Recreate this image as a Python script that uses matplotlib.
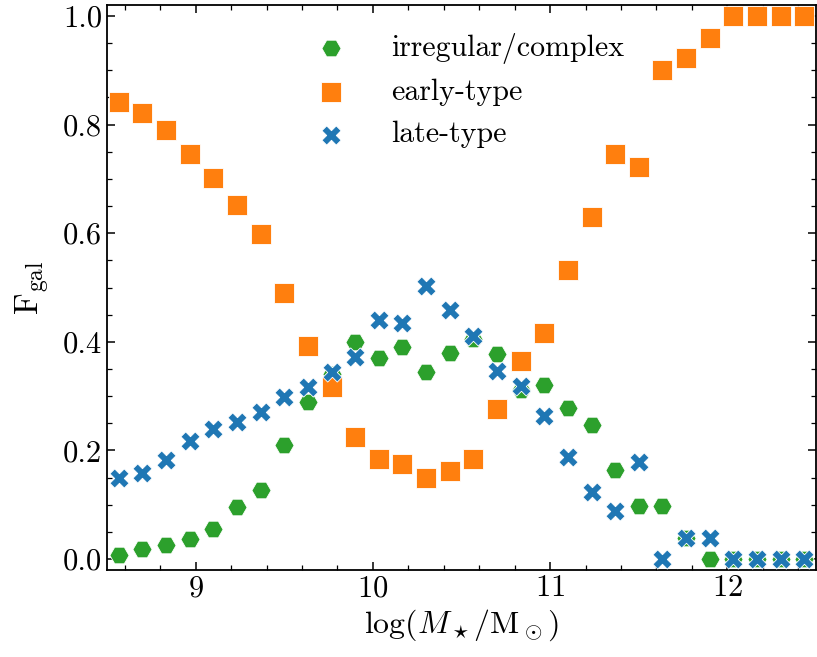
import numpy as np
import matplotlib
matplotlib.use("Agg")
import matplotlib.pyplot as plt
from matplotlib.ticker import MultipleLocator, FormatStrFormatter

plt.rcParams['font.family'] = 'serif'
plt.rcParams['font.serif'] = ['cmr10', 'DejaVu Serif']
plt.rcParams['mathtext.fontset'] = 'cm'
plt.rcParams['axes.formatter.use_mathtext'] = True

# bin centres of log stellar mass (30 bins from 8.5 to 12.5)
bin_lo = 8.5
bin_hi = 12.5
n_bins = 30
log_mass = bin_lo + (np.arange(n_bins) + 0.5) * (bin_hi - bin_lo) / n_bins

irregular = [0.008, 0.019, 0.026, 0.037, 0.056, 0.096, 0.128, 0.211, 0.290, 0.341,
             0.400, 0.371, 0.391, 0.345, 0.379, 0.406, 0.378, 0.311, 0.320, 0.278,
             0.246, 0.165, 0.098, 0.098, 0.039, 0.0, 0.0, 0.0, 0.0, 0.0]
early = [0.842, 0.822, 0.790, 0.745, 0.702, 0.651, 0.599, 0.489, 0.392, 0.316,
         0.225, 0.185, 0.175, 0.150, 0.163, 0.184, 0.276, 0.365, 0.416, 0.532,
         0.630, 0.746, 0.721, 0.901, 0.922, 0.959, 1.0, 1.0, 1.0, 1.0]
late = [0.149, 0.158, 0.182, 0.217, 0.240, 0.252, 0.271, 0.298, 0.316, 0.344,
        0.373, 0.441, 0.434, 0.503, 0.458, 0.411, 0.347, 0.319, 0.263, 0.188,
        0.123, 0.088, 0.179, 0.0, 0.039, 0.039, 0.0, 0.0, 0.0, 0.0]

labels = ['irregular/complex', 'early-type', 'late-type']
colors = ['#2ca02c', '#ff7f0e', '#1f77b4']
markers = ['H', 's', 'X']

fig = plt.figure(figsize=(8.17, 6.57), dpi=100)
ax = fig.add_axes([0.131, 0.1324, 0.8678, 0.86])

for vals, lab, c, m in zip([irregular, early, late], labels, colors, markers):
    ax.scatter(log_mass, vals, s=190, marker=m, color=c, edgecolor='white',
               linewidth=0.6, label=lab, zorder=3)

ax.set_xlim(8.5, 12.5)
ax.set_ylim(-0.02, 1.02)
ax.xaxis.set_major_locator(MultipleLocator(1))
ax.xaxis.set_minor_locator(MultipleLocator(0.2))
ax.yaxis.set_major_locator(MultipleLocator(0.2))
ax.yaxis.set_minor_locator(MultipleLocator(0.05))
ax.tick_params(which='both', direction='in', top=True, right=True, labelsize=22)
ax.tick_params(which='major', length=6, width=1.1)
ax.tick_params(which='minor', length=3.5, width=0.9)
ax.yaxis.set_major_formatter(FormatStrFormatter('%.1f'))
for sp in ax.spines.values():
    sp.set_linewidth(1.3)

ax.set_xlabel(r'$\log(M_\star/\mathrm{M_\odot})$', fontsize=23, labelpad=4)
ax.set_ylabel(r'$\mathrm{F_{gal}}$', fontsize=24, labelpad=8)

ax.legend(loc='upper left', bbox_to_anchor=(0.257, 0.972), frameon=False, fontsize=21.5,
          handletextpad=1.0, labelspacing=0.5, borderaxespad=0)

fig.savefig('out.png', dpi=100)
